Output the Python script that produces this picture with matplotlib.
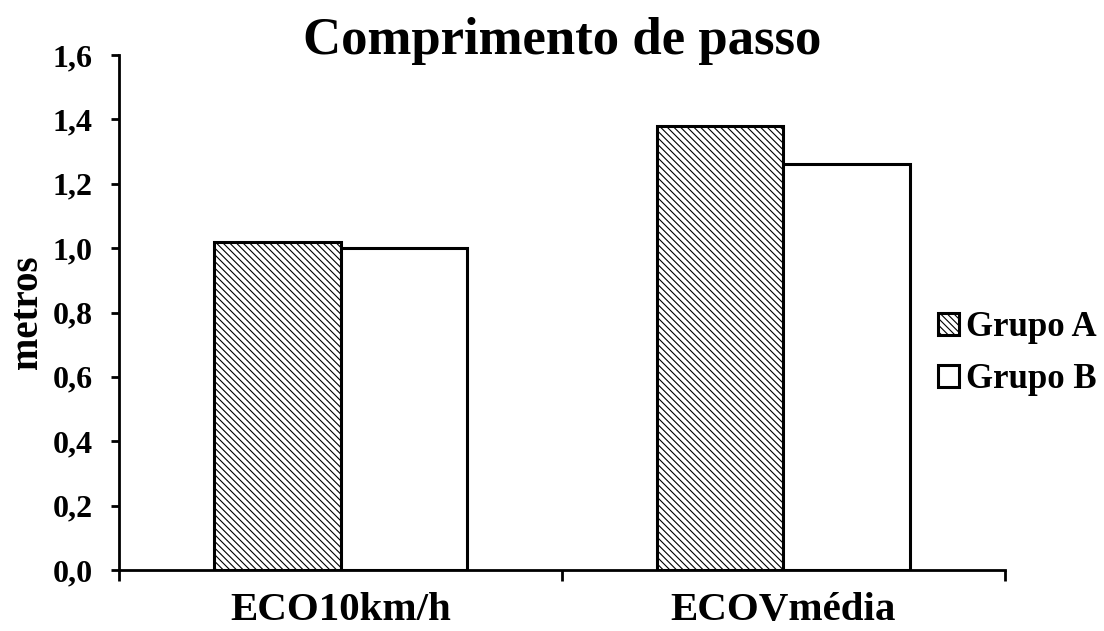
import numpy as np
import matplotlib.pyplot as plt
from matplotlib.ticker import FixedLocator, FuncFormatter

categories = ["ECO10km/h", "ECOVmédia"]
grupo_a = [1.02, 1.38]
grupo_b = [1.00, 1.26]
series_labels = ["Grupo A", "Grupo B"]
y_ticks = [0.0, 0.2, 0.4, 0.6, 0.8, 1.0, 1.2, 1.4, 1.6]

plt.rcParams["font.family"] = ["Liberation Serif", "DejaVu Serif"]
plt.rcParams["font.weight"] = "bold"
plt.rcParams["hatch.linewidth"] = 0.8

fig = plt.figure(figsize=(11.04, 6.31), dpi=100)
ax = fig.add_axes([0.1078, 0.0967, 0.8025, 0.8161])

x = np.arange(len(categories))
w = 1 / 3.5  # gap width 150%

ax.bar(x - w / 2, grupo_a, width=w, color="white", edgecolor="black",
       linewidth=2.2, hatch="\\\\\\\\\\", label=series_labels[0])
ax.bar(x + w / 2, grupo_b, width=w, color="white", edgecolor="black",
       linewidth=2.2, label=series_labels[1])

ax.set_xlim(-0.5, 1.5)
ax.set_ylim(0, 1.6)
ax.yaxis.set_major_locator(FixedLocator(y_ticks))
ax.yaxis.set_major_formatter(FuncFormatter(lambda v, p: f"{v:.1f}".replace(".", ",")))

# category boundaries get the tick marks, names sit in between
ax.set_xticks([-0.5, 0.5, 1.5])
ax.set_xticklabels([])
ax.set_xticks(x, minor=True)
ax.set_xticklabels(categories, minor=True, fontsize=29.5, fontweight="bold")
ax.tick_params(axis="x", which="minor", length=0, pad=16)
ax.tick_params(axis="x", which="major", direction="out", length=8, width=2)
ax.tick_params(axis="y", direction="out", length=6, width=2, labelsize=23, pad=13)

for s in ["top", "right"]:
    ax.spines[s].set_visible(False)
for s in ["left", "bottom"]:
    ax.spines[s].set_linewidth(2)

ax.set_ylabel("metros", fontsize=28, fontweight="bold", labelpad=5)
ax.set_title("Comprimento de passo", fontsize=38, fontweight="bold", y=1.0, pad=1)

ax.legend(loc="center left", bbox_to_anchor=(0.909, 0.42), frameon=False,
          fontsize=25, handlelength=0.6, handleheight=0.6, handletextpad=0.2,
          labelspacing=0.55, borderaxespad=0)

fig.savefig("out.png", dpi=100)
